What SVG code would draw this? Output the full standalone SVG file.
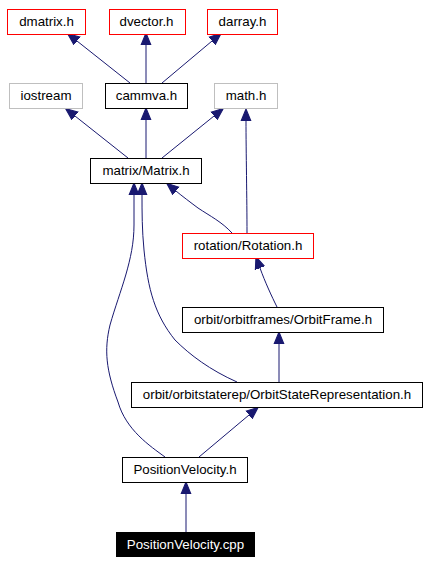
<svg xmlns="http://www.w3.org/2000/svg" width="429" height="564" viewBox="0 0 429 564">
<style>
.n rect{fill:#fff;stroke:#000;stroke-width:1}
.n.red rect{stroke:#ff0000}
.n.gray rect{stroke:#bfbfbf}
.n.cur rect{fill:#000;stroke:#000}
text{font-family:"Liberation Sans",Arial,sans-serif;font-size:13.3px;text-anchor:middle;fill:#000}
.n.cur text{fill:#fff}
#edges path{fill:none;stroke:#191970;stroke-width:1;marker-end:url(#ah)}
</style>
<defs>
<marker id="ah" markerUnits="userSpaceOnUse" markerWidth="12" markerHeight="12" viewBox="0 -5 11 10" refX="0" refY="0" orient="auto">
<path d="M0,-4.5 L11,0 L0,4.5 Z" fill="#191970" stroke="#191970" stroke-width="1"/>
</marker>
</defs>
<rect width="429" height="564" fill="#fff"/>
<g id="edges">
<path d="M130,83 L77,41"/>
<path d="M146,83 L146,45"/>
<path d="M162,83 L212,41"/>
<path d="M128,158 L75,116"/>
<path d="M146,158 L146,120"/>
<path d="M162,158 L214,116"/>
<path d="M247,233 C247,200 246,150 246,121"/>
<path d="M232,233 C222,222 210,216 198,208 C190,202 182,196 176,191"/>
<path d="M277,307 C272,297 265,282 260,268"/>
<path d="M279,382 L279,344"/>
<path d="M199,457 L249,415"/>
<path d="M186,532 L186,494"/>
<path d="M165,457 C150,446 126,430 118,402 C106,370 104,350 110,325 C120,290 134,260 134,225 L134,195"/>
<path d="M237,382 C210,370 190,355 175,340 C155,315 148,290 144,250 C142,230 142,212 142,195"/>
</g>
<g id="dmatrix" class="n red"><rect x="7.5" y="9.5" width="78" height="25"/><text x="46.5" y="26">dmatrix.h</text></g>
<g id="dvector" class="n red"><rect x="109.5" y="9.5" width="76" height="25"/><text x="146.5" y="26">dvector.h</text></g>
<g id="darray" class="n red"><rect x="207.5" y="9.5" width="70" height="25"/><text x="242.5" y="26">darray.h</text></g>
<g id="iostream" class="n gray"><rect x="9.5" y="83.5" width="73" height="25"/><text x="46" y="100">iostream</text></g>
<g id="cammva" class="n"><rect x="105.5" y="83.5" width="82" height="25"/><text x="146.5" y="100">cammva.h</text></g>
<g id="math" class="n gray"><rect x="214.5" y="83.5" width="63" height="25"/><text x="246" y="100">math.h</text></g>
<g id="matrix" class="n"><rect x="90.5" y="158.5" width="111" height="25"/><text x="146" y="175">matrix/Matrix.h</text></g>
<g id="rotation" class="n red"><rect x="182.5" y="233.5" width="131" height="25"/><text x="248" y="250">rotation/Rotation.h</text></g>
<g id="orbitframe" class="n"><rect x="182.5" y="307.5" width="201" height="25"/><text x="283" y="324">orbit/orbitframes/OrbitFrame.h</text></g>
<g id="osr" class="n"><rect x="131.5" y="382.5" width="291" height="25"/><text x="277" y="399">orbit/orbitstaterep/OrbitStateRepresentation.h</text></g>
<g id="pvh" class="n"><rect x="122.5" y="457.5" width="125" height="25"/><text x="185" y="474">PositionVelocity.h</text></g>
<g id="pvcpp" class="n cur"><rect x="116.5" y="532.5" width="138" height="24"/><text x="185.5" y="549">PositionVelocity.cpp</text></g>
</svg>
